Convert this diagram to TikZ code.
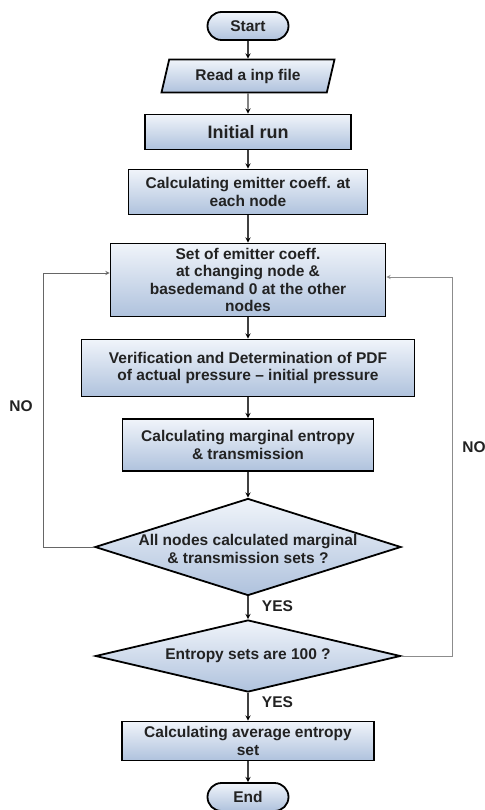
\documentclass[tikz,border=0pt]{standalone}
\usepackage{fontspec}
\setmainfont{Liberation Sans}
\usetikzlibrary{positioning,shapes.geometric,arrows}

\definecolor{boxtop}{HTML}{F0F4FA}
\definecolor{boxbot}{HTML}{AFC2DD}
\definecolor{txtgray}{HTML}{222222}

\begin{document}
\begin{tikzpicture}[>=stealth, node distance=50pt, on grid, auto,
    font=\bfseries\fontsize{15.5}{17.5}\selectfont,
    every node/.style={text=txtgray},
    filled/.style={draw=black, line width=1.8pt, top color=boxtop, bottom color=boxbot, align=center},
    termin/.style={filled, rectangle, rounded corners=14pt, minimum width=81pt, minimum height=28pt},
    inputbox/.style={filled, trapezium, trapezium left angle=70, trapezium right angle=110,
        trapezium stretches body, minimum width=173pt, minimum height=33pt},
    procbox/.style={filled, rectangle, inner sep=2pt},
    decision/.style={filled, diamond, inner sep=0pt},
    flow/.style={->, line width=1.3pt, draw=black!75},
    loopline/.style={->, line width=0.9pt, draw=black!60}]

    % Knoten
    \node[termin] (start) {Start};
    \useasboundingbox ([xshift=-248pt, yshift=26pt]start.center) rectangle ++(484pt,-810pt);
    \node[inputbox, below=50pt of start] (read) {Read a inp file};
    \node[procbox, below=56pt of read, minimum width=206pt, minimum height=35pt,
        font=\bfseries\fontsize{18}{20}\selectfont] (init) {Initial run};
    \node[procbox, below=60pt of init, minimum width=239pt, minimum height=45pt] (emit)
        {Calculating emitter coeff. at\\each node};
    \node[procbox, below=88pt of emit, minimum width=275pt, minimum height=73pt] (set)
        {Set of emitter coeff.\\at changing node \&\\basedemand 0 at the other\\nodes};
    \node[procbox, below=88pt of set, minimum width=333pt, minimum height=57pt] (verif)
        {Verification and Determination of PDF\\of actual pressure – initial pressure};
    \node[procbox, below=77pt of verif, minimum width=251pt, minimum height=52pt] (marg)
        {Calculating marginal entropy\\\& transmission};
    \node[decision, below=102pt of marg, minimum width=306pt, minimum height=97pt,
        label={[align=center, yshift=-2pt]center:All nodes calculated marginal\\\& transmission sets ?}] (allnodes) {};
    \node[decision, below=109pt of allnodes, minimum width=305pt, minimum height=72pt,
        label={center:Entropy sets are 100 ?}] (entropy) {};
    \node[procbox, below=85pt of entropy, minimum width=252pt, minimum height=39pt] (avg)
        {Calculating average entropy\\set};
    \node[termin, below=56pt of avg] (end) {End};

    % Beschriftungen
    \node[left=227pt of verif, yshift=-38pt] (noleft) {NO};
    \node[right=226pt of marg, yshift=-2pt] (noright) {NO};
    \coordinate[left=205pt of allnodes] (loopleft);
    \coordinate[right=204pt of entropy] (loopright);

    % Pfeile
    \path[flow]
    (start) edge (read)
    (read) edge (init)
    (init) edge (emit)
    (emit) edge (set)
    (set) edge (verif)
    (verif) edge (marg)
    (marg) edge (allnodes)
    (allnodes) edge node[right, xshift=10pt, pos=0.45] {YES} (entropy)
    (entropy) edge node[right, xshift=10pt, pos=0.35] {YES} (avg)
    (avg) edge (end);

    \draw[loopline] (allnodes.west) -- (loopleft) |- ([yshift=7pt]set.west);
    \draw[loopline, draw=black!45] (entropy.east) -- (loopright) |- ([yshift=3pt]set.east);

\end{tikzpicture}
\end{document}
